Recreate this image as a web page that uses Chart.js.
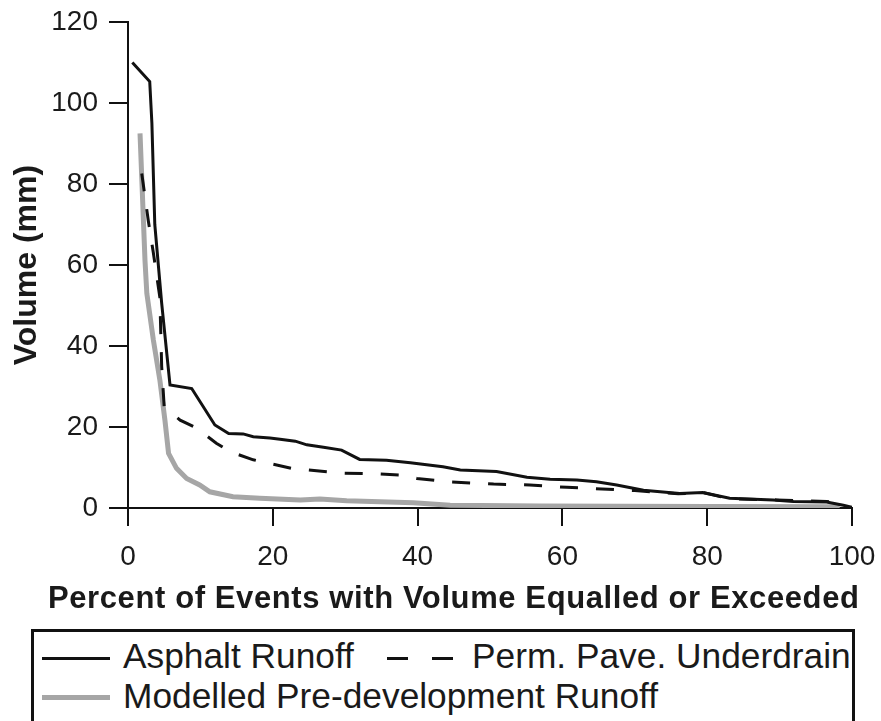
<!DOCTYPE html>
<html>
<head>
    <title>Runoff Volume Exceedance</title>
    <script src="https://cdn.jsdelivr.net/npm/chart.js"></script>
    <style>
        body { margin: 0; background: #fff; }
        #wrap { position: relative; width: 881px; height: 721px; overflow: hidden; font-family: "Liberation Sans", Arial, sans-serif; color: #1a1a1a; }
        #volumeChart { position: absolute; left: 0; top: 0; }
        #xTitle { position: absolute; left: 48px; top: 583px; font-size: 31px; font-weight: bold; line-height: 30px; letter-spacing: 0.6px; white-space: nowrap; }
        #legend { position: absolute; left: 31px; top: 629px; width: 818px; height: 120px; border: 3px solid #111; border-bottom: none; }
        .row { position: absolute; left: 0; height: 40px; font-size: 35.3px; line-height: 40px; white-space: nowrap; }
        .swatch { position: absolute; }
        .label { position: absolute; top: 0; }
    </style>
</head>
<body>
    <div id="wrap">
        <canvas id="volumeChart" width="881" height="625"></canvas>
        <div id="xTitle">Percent of Events with Volume Equalled or Exceeded</div>
        <div id="legend">
            <div class="row" style="top: 4px;">
                <span class="swatch" style="left: 8px; top: 21px; width: 68px; border-top: 3px solid #111;"></span>
                <span class="label" style="left: 89px;">Asphalt Runoff</span>
                <span class="swatch" style="left: 353px; top: 21px; width: 21px; border-top: 3px solid #111;"></span>
                <span class="swatch" style="left: 398px; top: 21px; width: 21px; border-top: 3px solid #111;"></span>
                <span class="label" style="left: 438px;">Perm. Pave. Underdrain</span>
            </div>
            <div class="row" style="top: 44px;">
                <span class="swatch" style="left: 8px; top: 19px; width: 68px; border-top: 5px solid #a6a6a6;"></span>
                <span class="label" style="left: 89px;">Modelled Pre-development Runoff</span>
            </div>
        </div>
    </div>

    <script>
        // Percent of events (x) and event volume in mm (y) for each series
        const asphaltPct = [0.6, 3.0, 3.3, 3.7, 4.65, 5.8, 8.8, 12.0, 13.9, 15.9, 17.3, 19.6, 21.0, 23.1, 24.7, 27.0, 29.5, 32.0, 35.7, 39.0, 43.5, 45.9, 50.9, 55.1, 58.3, 62.0, 64.7, 67.5, 71.2, 76.2, 79.4, 83.1, 89.1, 91.9, 96.5, 98.8, 100];
        const asphaltVol = [110, 105.3, 95, 70, 50.6, 30.4, 29.5, 20.5, 18.4, 18.3, 17.6, 17.3, 17.0, 16.5, 15.6, 15.0, 14.3, 12.0, 11.8, 11.2, 10.2, 9.4, 9.0, 7.6, 7.1, 6.9, 6.5, 5.7, 4.4, 3.6, 3.8, 2.4, 2.0, 1.6, 1.5, 0.7, 0.2];

        const underdrainPct = [1.9, 2.8, 3.5, 4.4, 4.65, 5.0, 7.2, 9.5, 12.2, 14.1, 17.3, 22.6, 29.7, 34.8, 38.0, 39.9, 44.0, 50.5, 55.5, 60.6, 64.3, 70.0, 76.0, 79.4, 83.0, 89.6, 96.5, 97.0];
        const underdrainVol = [82.6, 71, 63, 52, 35, 25, 21.7, 19.7, 16.0, 13.9, 11.9, 9.8, 8.6, 8.4, 8.1, 7.3, 6.5, 5.9, 5.7, 5.1, 4.8, 4.3, 3.5, 3.8, 2.3, 2.0, 1.6, 1.5];

        const preDevPct = [1.66, 2.35, 2.6, 3.5, 4.4, 5.1, 5.6, 6.7, 8.1, 9.9, 11.3, 14.5, 18.2, 23.8, 26.5, 30.2, 39.4, 44.5, 56.9, 80.0, 98.3];
        const preDevVol = [92.5, 61, 53, 41.5, 31.6, 21.7, 13.5, 9.8, 7.3, 5.7, 4.0, 2.8, 2.4, 2.0, 2.2, 1.8, 1.3, 0.7, 0.5, 0.4, 0.3];

        const toPoints = (xs, ys) => xs.map((x, i) => ({ x: x, y: ys[i] }));

        const axisFont = { family: "'Liberation Sans', Arial, sans-serif", size: 28 };

        const ctx = document.getElementById("volumeChart").getContext("2d");
        const volumeChart = new Chart(ctx, {
            type: "line",
            data: {
                datasets: [
                    {
                        label: "Asphalt Runoff",
                        data: toPoints(asphaltPct, asphaltVol),
                        borderColor: "#111",
                        borderWidth: 3,
                    },
                    {
                        label: "Perm. Pave. Underdrain",
                        data: toPoints(underdrainPct, underdrainVol),
                        borderColor: "#111",
                        borderWidth: 3,
                        borderDash: [18, 18],
                    },
                    {
                        label: "Modelled Pre-development Runoff",
                        data: toPoints(preDevPct, preDevVol),
                        borderColor: "#a6a6a6",
                        borderWidth: 5,
                    }
                ]
            },
            options: {
                responsive: false,
                animation: false,
                elements: {
                    point: { radius: 0 },
                    line: { tension: 0, fill: false }
                },
                layout: {
                    padding: { left: 0, top: 22, right: 29, bottom: 0 }
                },
                scales: {
                    x: {
                        type: "linear",
                        min: 0,
                        max: 100,
                        // fixed axis box so the plot area stays put; label overhang goes into layout padding
                        afterFit: (scale) => {
                            scale.height = 117;
                            scale.paddingLeft = 0;
                            scale.paddingRight = 0;
                        },
                        ticks: { stepSize: 20, color: "#1a1a1a", font: axisFont, padding: 14, maxRotation: 0 },
                        grid: { drawOnChartArea: false, color: "#111", lineWidth: 2, tickLength: 18 },
                        border: { color: "#111", width: 2 }
                    },
                    y: {
                        min: 0,
                        max: 120,
                        afterFit: (scale) => {
                            scale.width = 128;
                            scale.paddingTop = 0;
                            scale.paddingBottom = 0;
                        },
                        ticks: { stepSize: 20, color: "#1a1a1a", font: axisFont, padding: 11 },
                        grid: { drawOnChartArea: false, color: "#111", lineWidth: 2, tickLength: 19 },
                        border: { color: "#111", width: 2 },
                        title: {
                            display: true,
                            text: "Volume (mm)",
                            color: "#1a1a1a",
                            font: { family: "'Liberation Sans', Arial, sans-serif", size: 32, weight: "bold" },
                            padding: { top: 8, bottom: 0 }
                        }
                    }
                },
                plugins: {
                    legend: { display: false },
                    tooltip: { enabled: false }
                }
            }
        });
    </script>
</body>
</html>
